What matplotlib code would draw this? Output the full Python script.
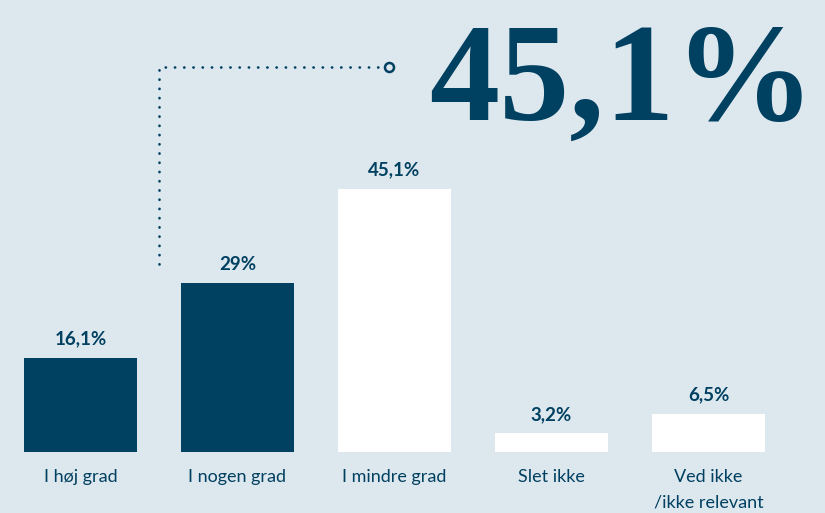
import matplotlib
matplotlib.use("Agg")
import matplotlib.pyplot as plt

categories = ["I høj grad", "I nogen grad", "I mindre grad", "Slet ikke", "Ved ikke\n/ikke relevant"]
values = [16.1, 29.0, 45.1, 3.2, 6.5]
value_labels = ["16,1%", "29%", "45,1%", "3,2%", "6,5%"]
highlight = "45,1%"

NAVY = "#004060"
BG = "#dde7ee"
bar_colors = [NAVY, NAVY, "white", "white", "white"]

fig = plt.figure(figsize=(8.25, 5.13), dpi=100, facecolor=BG)
ax = fig.add_axes([0, 61 / 513, 1, 452 / 513])
ax.set_facecolor(BG)

x = list(range(len(categories)))
ax.bar(x, values, width=0.72, color=bar_colors, linewidth=0)
ax.set_xlim(-80.5 / 157, (825 - 80.5) / 157)
ax.set_ylim(0, 452 / 5.83)
ax.axis("off")

for xi, v, lab, cat in zip(x, values, value_labels, categories):
    ax.annotate(lab, (xi, v), xytext=(0, 7.5), textcoords="offset points",
                ha="center", va="bottom", fontsize=13.5, fontweight="bold",
                color=NAVY, family="Lato")
    ax.annotate(cat, (xi, 0), xytext=(0, -12), textcoords="offset points",
                ha="center", va="top", fontsize=13, color=NAVY,
                family="Lato", linespacing=1.75, annotation_clip=False)

# dotted leader from the gap between the first two bars to the big figure
y_top = 66.0
ax.plot([0.5, 0.5, 1.93], [values[1] + 3.2, y_top, y_top], color=NAVY,
        linestyle=(0, (0.1, 3.4)), linewidth=1.9, dash_capstyle="round")
ax.plot([1.965], [y_top], marker="o", markersize=6.5, markerfacecolor="none",
        markeredgecolor=NAVY, markeredgewidth=1.8)

fig.text(815 / 825, 1 - 120 / 513, highlight, ha="right", va="baseline",
         fontsize=101, fontweight="bold", family="Liberation Serif", color=NAVY)

fig.savefig("out.png", dpi=100, facecolor=BG)
